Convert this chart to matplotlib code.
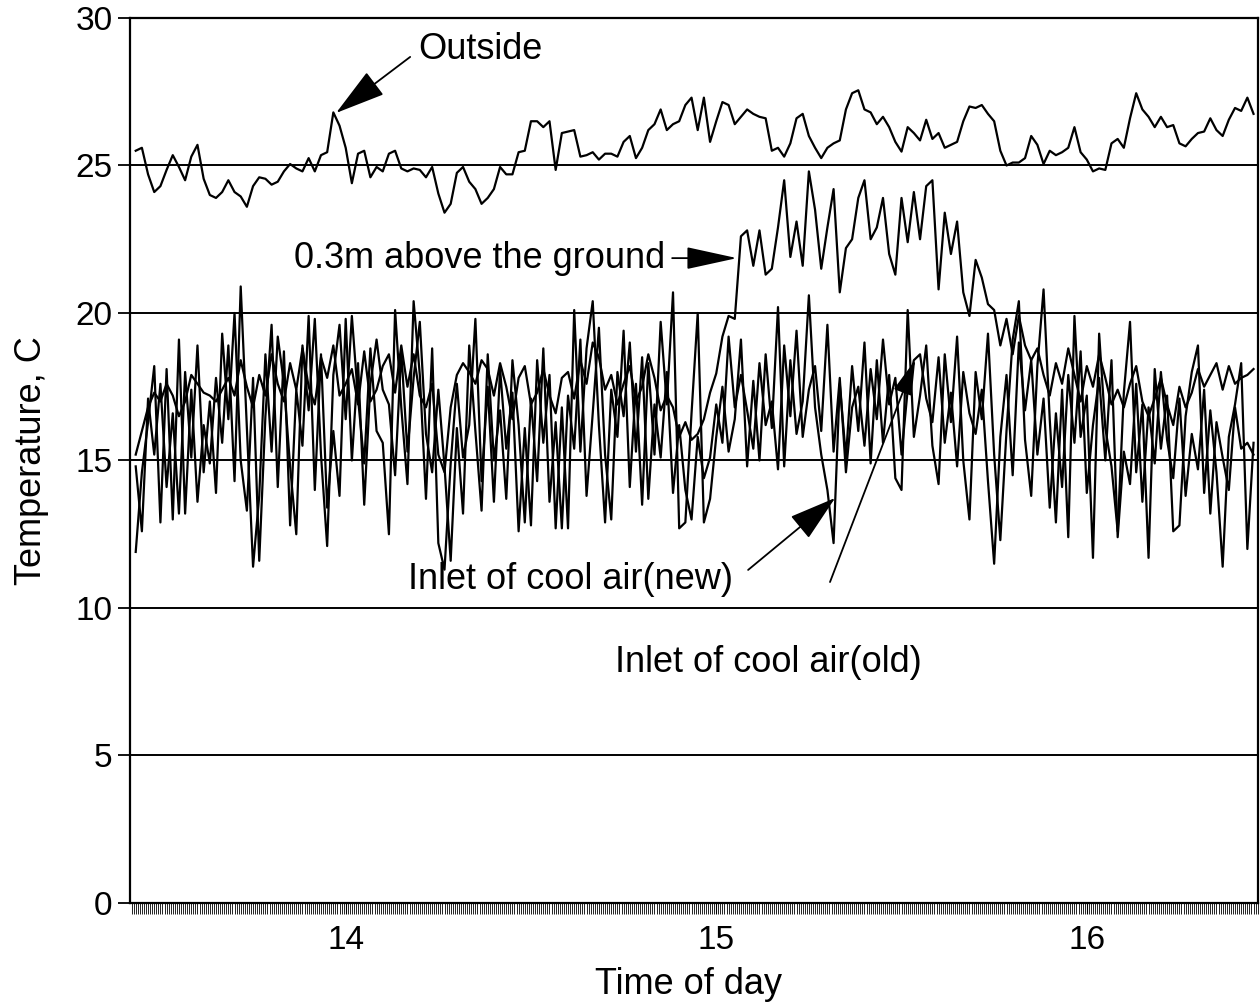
import numpy as np
import matplotlib
matplotlib.use("Agg")
import matplotlib.pyplot as plt
from matplotlib.ticker import MultipleLocator

plt.rcParams['font.family'] = ['Liberation Sans', 'DejaVu Sans']

# sampling time, minutes after 13:00 (one reading per minute)
minutes = list(range(26, 208))

outside = [
    25.5, 25.6, 24.7, 24.1, 24.3, 24.85, 25.35, 24.95, 24.5, 25.3,
    25.7, 24.55, 24.0, 23.9, 24.1, 24.5, 24.1, 23.95, 23.6, 24.3,
    24.6, 24.55, 24.35, 24.45, 24.8, 25.05, 24.9, 24.8, 25.25, 24.8,
    25.35, 25.45, 26.8, 26.35, 25.6, 24.4, 25.4, 25.5, 24.6, 24.95,
    24.8, 25.4, 25.5, 24.9, 24.8, 24.9, 24.85, 24.6, 24.95, 24.05,
    23.4, 23.7, 24.75, 24.95, 24.45, 24.2, 23.7, 23.9, 24.2, 24.95,
    24.7, 24.7, 25.45, 25.5, 26.5, 26.5, 26.3, 26.5, 24.85, 26.1,
    26.15, 26.2, 25.3, 25.35, 25.45, 25.2, 25.4, 25.4, 25.3, 25.8,
    26.0, 25.25, 25.6, 26.2, 26.4, 26.9, 26.2, 26.4, 26.5, 27.05,
    27.3, 26.2, 27.3, 25.8, 26.5, 27.15, 27.05, 26.4, 26.65, 26.9,
    26.75, 26.65, 26.6, 25.5, 25.6, 25.3, 25.75, 26.6, 26.75, 26.0,
    25.6, 25.25, 25.6, 25.75, 25.85, 26.9, 27.45, 27.55, 26.9, 26.8,
    26.4, 26.65, 26.3, 25.8, 25.47, 26.3, 26.1, 25.85, 26.55, 25.9,
    26.1, 25.6, 25.7, 25.8, 26.5, 27.0, 26.95, 27.05, 26.75, 26.5,
    25.5, 25.0, 25.1, 25.1, 25.25, 26.0, 25.7, 25.05, 25.5, 25.35,
    25.45, 25.6, 26.3, 25.45, 25.2, 24.8, 24.9, 24.85, 25.75, 25.9,
    25.6, 26.6, 27.45, 26.9, 26.65, 26.3, 26.65, 26.3, 26.37, 25.75,
    25.65, 25.9, 26.1, 26.15, 26.6, 26.2, 26.0, 26.55, 26.95, 26.85,
    27.3, 26.75,
]

ground = [
    15.2, 16.0, 16.8, 17.3, 17.0, 17.6, 17.2, 16.5, 17.0, 17.9,
    17.6, 17.3, 17.2, 17.0, 17.4, 17.8, 17.2, 18.4, 17.5, 16.8,
    17.9, 17.2, 18.6, 17.6, 17.0, 18.3, 17.4, 18.8, 17.5, 16.9,
    18.5, 17.8, 18.9, 17.2, 17.6, 18.1, 16.9, 18.7, 17.0, 17.4,
    18.2, 18.6, 17.3, 18.9, 17.5, 18.6, 17.2, 16.8, 17.6, 15.2,
    14.6, 16.8, 17.9, 18.3, 18.0, 17.6, 18.4, 18.1, 17.2, 18.3,
    17.5, 16.4, 17.8, 18.2, 16.9, 17.3, 18.1, 17.2, 16.6, 17.8,
    18.0, 17.1, 18.4, 17.6, 19.0, 18.5, 17.4, 17.9, 16.9, 17.6,
    18.2, 17.0, 17.5, 18.6, 17.8, 16.7, 17.2, 16.8, 15.8, 16.3,
    15.7, 15.9, 16.4, 17.3, 17.95, 19.2, 19.9, 19.8, 22.6, 22.8,
    21.6, 22.8, 21.3, 21.5, 22.9, 24.5, 21.9, 23.1, 21.6, 24.8,
    23.5, 21.5, 22.9, 24.2, 20.7, 22.2, 22.5, 23.9, 24.5, 22.5,
    22.9, 23.9, 22.0, 21.3, 23.9, 22.4, 24.1, 22.5, 24.3, 24.5,
    20.8, 23.4, 22.0, 23.1, 20.7, 19.9, 21.8, 21.2, 20.3, 20.1,
    18.9, 19.8, 18.6, 19.9, 18.9, 18.4, 18.8, 17.9, 17.2, 18.3,
    17.6, 18.8, 17.9, 17.0, 18.2, 17.5, 18.6, 17.8, 16.9, 17.4,
    16.8, 17.6, 18.2, 17.0, 16.5, 17.1, 17.8, 16.9, 16.2, 17.5,
    16.8, 17.3, 18.1, 17.5, 17.9, 18.3, 17.4, 18.2, 17.6, 17.8,
    17.9, 18.1,
]

inlet_new = [
    11.9, 14.6, 16.3, 18.2, 12.9, 18.1, 13.0, 19.1, 13.2, 17.4,
    13.6, 16.2, 14.9, 17.8, 15.6, 18.9, 14.3, 20.9, 16.1, 11.4,
    13.8, 18.6, 15.3, 19.2, 17.6, 14.8, 12.5, 18.9, 16.7, 19.8,
    15.2, 12.1, 17.9, 19.6, 16.4, 19.9, 17.1, 14.9, 18.8, 16.0,
    15.6, 12.5, 20.1, 16.8, 14.2, 20.4, 17.9, 13.7, 18.8, 12.2,
    11.3, 14.9, 17.6, 15.1, 16.2, 19.8, 14.3, 17.5, 13.6, 18.1,
    15.4, 17.3, 12.6, 16.1, 12.8, 18.4, 15.6, 17.9, 12.7, 16.8,
    12.7, 20.1, 15.3, 18.8, 20.4, 16.2, 12.9, 17.4, 15.8, 19.4,
    14.1, 17.6, 13.5, 18.3, 15.2, 19.7, 16.9, 20.7, 12.7, 12.9,
    16.6, 20.0, 12.9, 13.7, 15.8, 17.5, 15.3, 16.4, 19.1, 14.8,
    17.7, 15.0, 18.6, 16.1, 20.2, 14.8, 18.4, 15.9, 17.0, 20.6,
    16.8, 15.2, 14.0, 12.2, 17.6, 15.1, 18.2, 16.0, 19.0, 14.9,
    18.4, 15.6, 17.9, 14.4, 14.0, 20.1, 15.8, 17.2, 18.9, 15.5,
    14.2, 18.6, 16.3, 19.2, 15.0, 13.0, 18.0, 16.4, 19.3, 15.2,
    12.3, 16.0, 19.1, 20.4, 15.7, 13.8, 18.2, 20.8, 16.4, 12.9,
    17.4, 12.4, 19.9, 15.8, 17.2, 11.7, 19.3, 16.1, 14.8, 12.6,
    17.3, 19.7, 14.6, 16.9, 11.7, 18.1, 15.4, 17.2, 12.6, 12.8,
    16.5, 18.0, 18.9, 13.9, 16.7, 14.6, 11.4, 15.8, 16.9, 18.3,
    12.0, 15.6,
]

inlet_old = [
    14.8, 12.6, 17.1, 15.2, 17.6, 14.1, 16.6, 13.2, 18.0, 15.1,
    18.9, 14.6, 17.0, 13.9, 19.3, 16.4, 20.0, 15.0, 13.3, 17.8,
    11.6, 16.5, 19.6, 14.1, 18.7, 12.8, 17.4, 15.5, 19.9, 14.0,
    18.6, 13.4, 16.0, 13.8, 19.8, 15.0, 18.3, 13.5, 17.6, 19.1,
    17.4, 16.9, 14.5, 18.7, 15.3, 17.8, 19.7, 15.9, 14.6, 17.4,
    14.8, 11.6, 16.1, 13.2, 18.9, 16.0, 13.3, 18.6, 15.0, 16.7,
    13.7, 18.4, 16.2, 12.9, 17.1, 14.3, 18.8, 13.6, 16.3, 12.7,
    17.2, 15.4, 19.1, 13.8, 16.6, 19.5, 15.2, 13.0, 18.0, 16.5,
    19.0, 15.3, 18.5, 13.7, 16.9, 15.1, 18.0, 13.9, 16.2, 14.0,
    13.0, 15.8, 14.4, 15.1, 16.9, 15.6, 19.2, 16.8, 17.9, 16.7,
    15.4, 18.3, 16.2, 17.0, 14.7, 18.9, 16.5, 19.4, 15.8, 17.4,
    18.2, 16.0, 19.6, 15.3, 17.8, 14.6, 16.8, 17.5, 15.5, 18.1,
    16.4, 19.1, 16.9, 17.8, 15.2, 17.4, 18.4, 18.6, 17.1, 16.3,
    18.5, 15.6, 17.3, 14.8, 18.0, 16.6, 15.9, 17.4, 14.3, 11.5,
    15.8, 17.9, 14.5, 19.0, 16.7, 18.4, 15.2, 17.1, 13.4, 16.6,
    14.1, 17.9, 15.6, 18.7, 13.9, 16.2, 17.8, 15.0, 18.4, 12.4,
    15.3, 14.2, 17.6, 13.6, 16.8, 14.9, 18.0, 15.7, 14.4, 17.1,
    13.8, 15.9, 14.7, 17.4, 13.2, 16.3, 15.1, 14.0, 16.8, 15.4,
    15.6, 15.2,
]

t = 13 + np.array(minutes) / 60.0

fig = plt.figure(figsize=(12.6, 10.05), dpi=100)
ax = fig.add_axes([0.1032, 0.1015, 0.8952, 0.8806])

for y in (5, 10, 15, 20, 25):
    ax.axhline(y, color='black', lw=1.4, zorder=1)

for series in (outside, ground, inlet_old, inlet_new):
    ax.plot(t, series, color='black', lw=1.6, zorder=2)

ax.set_xlim(13.418, 16.462)
ax.set_ylim(0, 30)
ax.set_yticks(range(0, 31, 5))
ax.set_xticks([14, 15, 16])
ax.xaxis.set_minor_locator(MultipleLocator(1 / 180))

for sp in ax.spines.values():
    sp.set_linewidth(1.6)

ax.tick_params(axis='y', direction='out', length=8.5, width=1.3, pad=4, labelsize=24)
ax.tick_params(axis='x', which='major', direction='out', length=8, width=0.8, pad=8, labelsize=24)
ax.tick_params(axis='x', which='minor', direction='out', length=8, width=0.6)

ax.set_xlabel('Time of day', fontsize=26)
ax.set_ylabel('Temperature, C', fontsize=26)
ax.xaxis.set_label_coords(0.4956, -0.072)
ax.yaxis.set_label_coords(-0.072, 0.5)

# annotations with filled arrow heads
def arrow(tip, tail, hl, hw):
    ax.annotate('', xy=tip, xytext=tail,
                arrowprops=dict(arrowstyle=f'-|>,head_length={hl},head_width={hw}',
                                mutation_scale=10, color='black', lw=1.3,
                                shrinkA=0, shrinkB=0), zorder=5)

ax.text(14.195, 28.92, 'Outside', fontsize=26, ha='left', va='center')
arrow((13.974, 26.78), (14.174, 28.68), 3.2, 0.9)

ax.text(14.862, 21.86, '0.3m above the ground', fontsize=26, ha='right', va='center')
arrow((15.056, 21.86), (14.881, 21.86), 3.2, 0.7)

ax.text(14.608, 10.95, 'Inlet of cool air(new)', fontsize=26, ha='center', va='center')
arrow((15.321, 13.73), (15.086, 11.29), 3.0, 0.9)

ax.text(15.140, 8.14, 'Inlet of cool air(old)', fontsize=26, ha='center', va='center')
arrow((15.537, 18.41), (15.307, 10.88), 2.2, 0.6)

fig.savefig('out.png', dpi=100)
